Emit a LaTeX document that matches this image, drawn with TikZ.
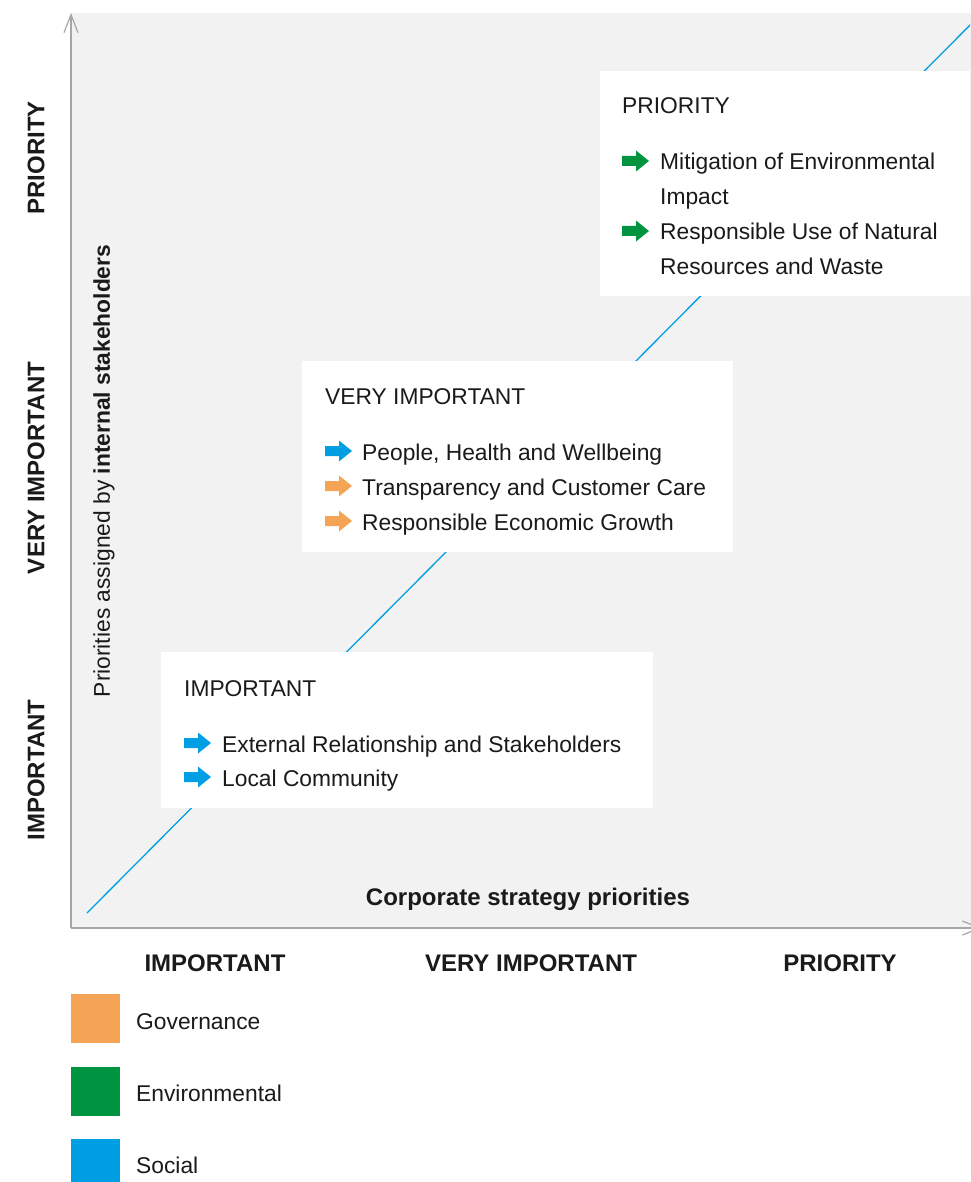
\documentclass[tikz,border=0pt]{standalone}
\usepackage{fontspec}
\setmainfont{Liberation Sans}
\usetikzlibrary{arrows.meta}
\definecolor{bggray}{HTML}{F2F2F2}
\definecolor{axisgray}{HTML}{A6A6A6}
\definecolor{govc}{HTML}{F5A455}
\definecolor{envc}{HTML}{009340}
\definecolor{socc}{HTML}{009FE3}
\definecolor{txt}{HTML}{1A1A1A}
\tikzset{
  body/.style={font=\fontsize{22.8}{27}\selectfont, text=txt, inner sep=0pt, anchor=base west},
  axlab/.style={font=\fontsize{24}{28}\selectfont\bfseries, text=txt, inner sep=0pt},
  boxw/.style={fill=white, draw=none},
  pics/barrow/.style={code={
    \path[pic actions] (0,-5) -- (14,-5) -- (14,-10.5) -- (27,0) -- (14,10.5) -- (14,5) -- (0,5) -- cycle;}},
  legsq/.style={minimum width=49pt, minimum height=49pt, inner sep=0pt, anchor=north west, draw=none},
}
\begin{document}
\begin{tikzpicture}[x=1pt,y=-1pt]
\useasboundingbox (0,0) rectangle (970,1182);
% background
\fill[bggray] (71,13) rectangle (975,928);
% diagonal
\begin{scope}
\clip (71,13) rectangle (970,928);
\coordinate (d1) at (87,913);
\coordinate (d2) at (985,10);
\draw[socc, line width=1.3pt] (d1) -- (d2);
\end{scope}
% axes
\coordinate (o) at (71,928);
\coordinate (ytop) at (71,13);
\coordinate (xr) at (982,928);
\draw[axisgray, line width=1.4pt, -{Straight Barb[length=18pt,width=14pt,line width=1.2pt]}] (o) -- (ytop);
\draw[axisgray, line width=1.4pt, -{Straight Barb[length=18pt,width=14pt,line width=1.2pt]}] (o) -- (xr);
% boxes
\fill[boxw] (600,71) rectangle (970,296);
\fill[boxw] (302,361) rectangle (733,552);
\fill[boxw] (161,652) rectangle (653,808);
% PRIORITY box
\node[body] (pt) at (622,114) {PRIORITY};
\pic[fill=envc] at (622,161) {barrow};
\node[body] (p1) at (660,170) {Mitigation of Environmental};
\node[body] (p1b) at (660,205) {Impact};
\pic[fill=envc] at (622,231) {barrow};
\node[body] (p2) at (660,240) {Responsible Use of Natural};
\node[body] (p2b) at (660,274) {Resources and Waste};
% VERY IMPORTANT box
\node[body] (vt) at (325,404) {VERY IMPORTANT};
\pic[fill=socc] at (325,451) {barrow};
\node[body] (v1) at (362,460) {People, Health and Wellbeing};
\pic[fill=govc] at (325,486) {barrow};
\node[body] (v2) at (362,495) {Transparency and Customer Care};
\pic[fill=govc] at (325,521) {barrow};
\node[body] (v3) at (362,530) {Responsible Economic Growth};
% IMPORTANT box
\node[body] (it) at (184,696) {IMPORTANT};
\pic[fill=socc] at (184,743) {barrow};
\node[body] (i1) at (222,752) {External Relationship and Stakeholders};
\pic[fill=socc] at (184,777) {barrow};
\node[body] (i2) at (222,786) {Local Community};
% axis labels
\node[axlab] (xl) at (528,899) {Corporate strategy priorities};
\node[axlab] (x1) at (215,963) {IMPORTANT};
\node[axlab] (x2) at (531,963) {VERY IMPORTANT};
\node[axlab] (x3) at (840,963) {PRIORITY};
\node[axlab, rotate=90] (y3) at (36,158) {PRIORITY};
\node[axlab, rotate=90] (y2) at (36,468) {VERY IMPORTANT};
\node[axlab, rotate=90] (y1) at (36,770) {IMPORTANT};
\node[font=\fontsize{22.8}{27}\selectfont, text=txt, inner sep=0pt, rotate=90] (yl) at (104,471) {Priorities assigned by \textbf{internal stakeholders}};
% legend
\node[legsq, fill=govc] (lg) at (71,994) {};
\node[legsq, fill=envc] (le) at (71,1067) {};
\node[legsq, fill=socc] (ls) at (71,1139) {};
\node[body] (lgt) at (136,1029) {Governance};
\node[body] (let) at (136,1101) {Environmental};
\node[body] (lst) at (136,1173) {Social};
\end{tikzpicture}
\end{document}
